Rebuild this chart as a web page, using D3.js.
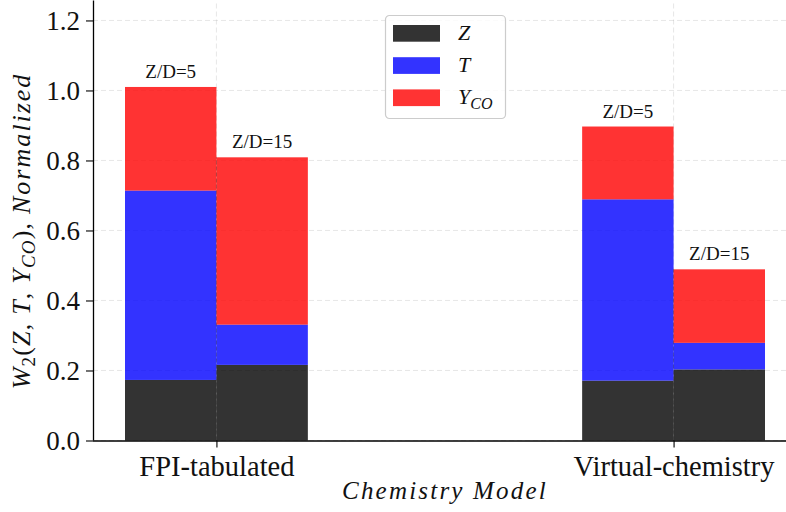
<!DOCTYPE html>
<html>
<head>
<meta charset="utf-8">
<script src="https://cdn.jsdelivr.net/npm/d3@7"></script>
<style>
  html, body { margin: 0; padding: 0; background: #fff; }
</style>
</head>
<body>
<div id="d3-mount"></div>
<script>
// chemistry models on the x axis, one pair of bars per model
const models = ["FPI-tabulated", "Virtual-chemistry"];
const cases = ["Z/D=5", "Z/D=15"];
const caseOffsets = [-0.1, 0.1];

// one entry per bar: FPI 5, FPI 15, Virtual 5, Virtual 15
const barModel = [0, 0, 1, 1];
const barCase = [0, 1, 0, 1];
const zValues = [0.173, 0.216, 0.171, 0.203];
const tValues = [0.541, 0.115, 0.518, 0.076];
const ycoValues = [0.296, 0.478, 0.208, 0.21];

const yTicks = [0, 0.2, 0.4, 0.6, 0.8, 1.0, 1.2];
const seriesKeys = ["Z", "T", "YCO"];
const seriesColors = ["#000000", "#0000ff", "#ff0000"];

const SERIF = "'Liberation Serif', 'Times New Roman', 'DejaVu Serif', serif";

function main() {
  const width = 786;
  const height = 512;

  const bars = barModel.map((m, i) => ({
    model: m,
    caseIdx: barCase[i],
    Z: zValues[i],
    T: tValues[i],
    YCO: ycoValues[i],
  }));
  const stacked = d3.stack().keys(seriesKeys)(bars);

  const svg = d3
    .select("#d3-mount")
    .append("svg")
    .attr("width", width)
    .attr("height", height)
    .style("font-family", SERIF)
    .style("display", "block");

  const x = d3.scaleLinear().domain([-0.27, 1.27]).range([93, 797]);
  const y = d3.scaleLinear().domain([0, 1.257]).range([440.5, 0.5]);
  const barW = x(0.2) - x(0);

  // grid, behind the bars
  const grid = svg.append("g").attr("class", "grid");
  grid
    .selectAll("line.gy")
    .data(yTicks)
    .enter()
    .append("line")
    .attr("x1", x.range()[0])
    .attr("x2", x.range()[1])
    .attr("y1", (d) => y(d))
    .attr("y2", (d) => y(d));
  grid
    .selectAll("line.gx")
    .data(models)
    .enter()
    .append("line")
    .attr("x1", (d, i) => x(i))
    .attr("x2", (d, i) => x(i))
    .attr("y1", y.range()[0])
    .attr("y2", y.range()[1]);
  grid
    .selectAll("line")
    .attr("stroke", "#b0b0b0")
    .attr("stroke-opacity", 0.3)
    .attr("stroke-width", 1)
    .attr("stroke-dasharray", "5,3");

  // stacked bars, alpha 0.8
  svg
    .append("g")
    .selectAll("g")
    .data(stacked)
    .enter()
    .append("g")
    .attr("fill", (d, i) => seriesColors[i])
    .attr("fill-opacity", 0.8)
    .selectAll("rect")
    .data((d) => d)
    .enter()
    .append("rect")
    .attr("x", (d) => x(d.data.model + caseOffsets[d.data.caseIdx]) - barW / 2)
    .attr("width", barW)
    .attr("y", (d) => y(d[1]))
    .attr("height", (d) => y(d[0]) - y(d[1]));

  // seam between adjacent bars (overlapping edges in the original)
  svg
    .append("g")
    .selectAll("line")
    .data(models)
    .enter()
    .append("line")
    .attr("x1", (d, i) => x(i))
    .attr("x2", (d, i) => x(i))
    .attr("y1", y(0))
    .attr("y2", (d, i) => y(d3.min(stacked[2].filter((s) => s.data.model === i), (s) => s[1])))
    .attr("stroke", "#000")
    .attr("stroke-opacity", 0.35)
    .attr("stroke-width", 0.8)
    .attr("stroke-dasharray", "4,2");

  // case labels above each bar
  svg
    .append("g")
    .selectAll("text")
    .data(stacked[2])
    .enter()
    .append("text")
    .attr("x", (d) => x(d.data.model + caseOffsets[d.data.caseIdx]))
    .attr("y", (d) => y(d[1]) - 9)
    .attr("text-anchor", "middle")
    .style("font-size", "19px")
    .attr("fill", "#111")
    .text((d) => cases[d.data.caseIdx]);

  // axes
  const yAxis = svg
    .append("g")
    .attr("transform", `translate(${x.range()[0]},0)`)
    .call(
      d3
        .axisLeft(y)
        .tickValues(yTicks)
        .tickFormat(d3.format(".1f"))
        .tickSize(7)
        .tickPadding(6)
    );
  const xAxis = svg
    .append("g")
    .attr("transform", `translate(0,${y(0)})`)
    .call(
      d3
        .axisBottom(x)
        .tickValues([0, 1])
        .tickFormat((d) => models[d])
        .tickSize(7)
        .tickPadding(8)
    );
  [yAxis, xAxis].forEach((ax) => {
    ax.attr("font-family", null).attr("font-size", null);
    ax.style("font-family", SERIF).style("font-size", "27px");
    ax.selectAll(".domain").attr("stroke", "#000").attr("stroke-width", 1.3);
    ax.selectAll(".tick line").attr("stroke", "#000").attr("stroke-width", 1.1);
    ax.selectAll(".tick text").attr("fill", "#111");
  });
  xAxis.style("font-size", "28.5px");
  xAxis.select(".domain").attr("d", `M${x.range()[0]},0.5H${x.range()[1]}`);
  yAxis.select(".domain").attr("d", `M0.5,${y.range()[0]}V${y.range()[1]}`);

  // axis titles
  svg
    .append("text")
    .attr("x", 445)
    .attr("y", 499)
    .attr("text-anchor", "middle")
    .style("font-size", "25px")
    .style("font-style", "italic")
    .attr("letter-spacing", 2.2)
    .attr("fill", "#111")
    .text("Chemistry Model");

  const yl = svg
    .append("text")
    .attr("transform", "translate(30,231) rotate(-90)")
    .attr("text-anchor", "middle")
    .style("font-size", "26px")
    .attr("letter-spacing", 1.2)
    .attr("fill", "#111");
  yl.append("tspan").style("font-style", "italic").text("W");
  yl.append("tspan").style("font-size", "19px").attr("dy", 5).text("2");
  yl.append("tspan").attr("dy", -5).text("(");
  yl.append("tspan").style("font-style", "italic").text("Z");
  yl.append("tspan").text(", ");
  yl.append("tspan").style("font-style", "italic").text("T");
  yl.append("tspan").text(", ");
  yl.append("tspan").style("font-style", "italic").text("Y");
  yl.append("tspan").style("font-style", "italic").style("font-size", "19px").attr("dy", 5).text("CO");
  yl.append("tspan").attr("dy", -5).text("), ");
  yl.append("tspan").style("font-style", "italic").attr("letter-spacing", 2).text("Normalized");

  // legend
  const legend = svg.append("g").attr("transform", "translate(385,15)");
  legend
    .append("rect")
    .attr("x", 0.5)
    .attr("y", 0.5)
    .attr("width", 120)
    .attr("height", 103)
    .attr("rx", 4)
    .attr("fill", "#fff")
    .attr("fill-opacity", 0.8)
    .attr("stroke", "#cccccc")
    .attr("stroke-width", 1.2);
  const rows = legend
    .selectAll("g.row")
    .data(seriesKeys)
    .enter()
    .append("g")
    .attr("class", "row")
    .attr("transform", (d, i) => `translate(8,${10 + i * 32.2})`);
  rows
    .append("rect")
    .attr("width", 47)
    .attr("height", 16.7)
    .attr("fill", (d, i) => seriesColors[i])
    .attr("fill-opacity", 0.8);
  const labels = rows
    .append("text")
    .attr("x", 65)
    .attr("y", 15)
    .style("font-size", "22px")
    .style("font-style", "italic")
    .attr("fill", "#111");
  labels.append("tspan").text((d) => d.charAt(0));
  labels
    .filter((d) => d.length > 1)
    .append("tspan")
    .style("font-size", "16px")
    .attr("dy", 5)
    .text((d) => d.slice(1));
}
main();
</script>
</body>
</html>
